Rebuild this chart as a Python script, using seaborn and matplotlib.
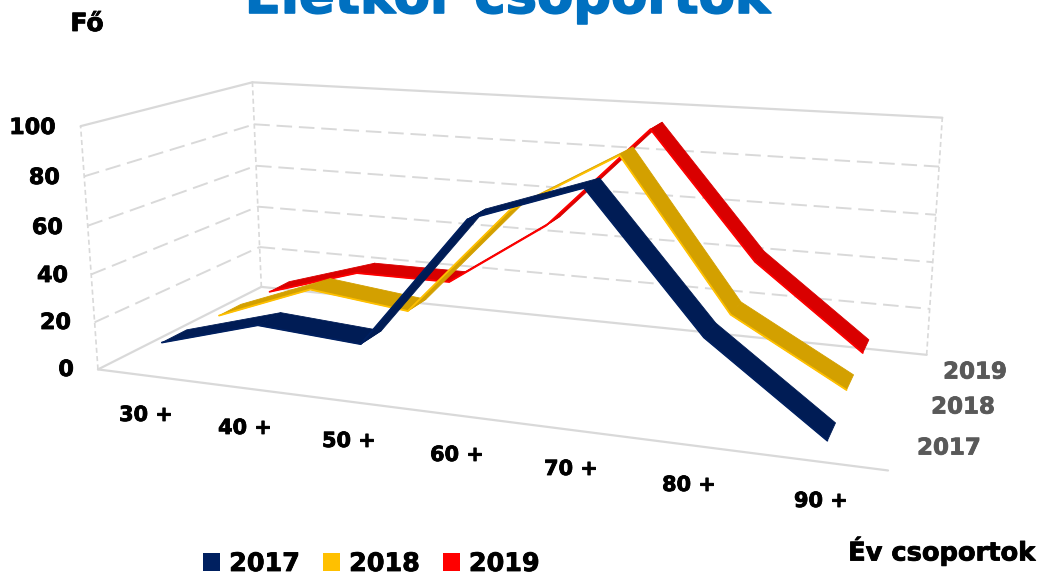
import numpy as np
import matplotlib
matplotlib.use("Agg")
import matplotlib.pyplot as plt
import matplotlib.patheffects as pe
from matplotlib.patches import Patch
from mpl_toolkits.mplot3d.art3d import Poly3DCollection
import seaborn as sns

# Values
age_groups = ["30 +", "40 +", "50 +", "60 +", "70 +", "80 +", "90 +"]
years = ["2017", "2018", "2019"]
values_2017 = [10, 22, 19, 72, 87, 36, 3]
values_2018 = [9, 25, 20, 66, 91, 32, 7]
values_2019 = [8, 21, 21, 50, 94, 42, 8]
y_ticks = [0, 20, 40, 60, 80, 100]

sns.set_theme(style="white")
plt.rcParams['font.family'] = ['DejaVu Sans']

legend_colors = sns.color_palette(["#002060", "#FFC000", "#FF0000"])
face_colors = ["#001C55", "#D3A000", "#D90000"]
edge_colors = ["#002060", "#FFC000", "#FF0000"]
grid_color = "#D9D9D9"

W, H = 1041, 573
fig = plt.figure(figsize=(W / 100, H / 100), dpi=100)
ax = fig.add_axes([0, 0, 1, 1], projection="3d", computed_zorder=False)

# Camera fitted to the corners of the box in the picture
scale, off_x, off_y = 4624.1, 517.68, 244.29
x0, x1 = ax.viewLim.intervalx
y0, y1 = ax.viewLim.intervaly
side = scale * (x1 - x0)
left = off_x + scale * x0
top = off_y - scale * y1
ax.set_position([left / W, 1 - (top + side) / H, side / W, side / H])

ax.set_proj_type("persp", focal_length=0.3281)
ax.view_init(elev=13.867, azim=-69.902, roll=0.094)
ax.set_box_aspect((1, 0.4244, 0.3176))
ax.set_xlim(0, 7, view_margin=0)
ax.set_ylim(0, 3, view_margin=0)
ax.set_zlim(0, 100, view_margin=0)
ax.set_axis_off()
ax.patch.set_alpha(0)

# Box outline and dashed grid
solid = dict(color=grid_color, lw=1.6, zorder=1, clip_on=False)
dashed = dict(color=grid_color, lw=1.4, ls=(0, (8, 3.5)), zorder=1, clip_on=False)
dashed_thin = dict(color=grid_color, lw=1.2, ls=(0, (3, 2)), zorder=1, clip_on=False)
ax.plot([0, 7], [0, 0], [0, 0], **solid)
ax.plot([0, 0], [0, 3], [0, 0], **solid)
ax.plot([0, 7], [3, 3], [0, 0], **solid)
ax.plot([0, 0], [0, 3], [100, 100], **solid)
ax.plot([0, 7], [3, 3], [100, 100], **solid)
for tick in y_ticks[1:-1]:
    ax.plot([0, 0], [0, 3], [tick, tick], **dashed)
    ax.plot([0, 7], [3, 3], [tick, tick], **dashed)
ax.plot([0, 0], [0, 0], [0, 100], **dashed_thin)
ax.plot([0, 0], [3, 3], [0, 100], **dashed_thin)
ax.plot([7, 7], [3, 3], [0, 100], **dashed_thin)

# The 3D line chart: flat ribbons, back series first
half_width = 0.21
xs = np.arange(len(age_groups)) + 0.5
series = [values_2017, values_2018, values_2019]
for i in [2, 1, 0]:
    vals = series[i]
    depth = i + 0.5
    quads = []
    for j in range(len(xs) - 1):
        quads.append([
            (xs[j], depth - half_width, vals[j]),
            (xs[j + 1], depth - half_width, vals[j + 1]),
            (xs[j + 1], depth + half_width, vals[j + 1]),
            (xs[j], depth + half_width, vals[j]),
        ])
    z = 10 - i * 2
    ribbon = Poly3DCollection(quads, facecolor=face_colors[i], edgecolor=face_colors[i],
                              linewidth=0.6, zorder=z)
    ax.add_collection3d(ribbon)
    ax.plot(xs, np.full(len(xs), depth - half_width), vals, color=edge_colors[i],
            lw=1.3, zorder=z + 1, solid_capstyle="round")

heavy = [pe.withStroke(linewidth=0.6, foreground="black")]
heavy_grey = [pe.withStroke(linewidth=0.6, foreground="#595959")]


def label(px, py, text, **kw):
    kw.setdefault("fontweight", "bold")
    kw.setdefault("ha", "center")
    kw.setdefault("va", "center")
    kw.setdefault("color", "black")
    kw.setdefault("path_effects", heavy)
    fig.text(px / W, 1 - py / H, text, **kw)


# Value axis labels
tick_x = [74, 71, 68, 63, 60, 56]
tick_y = [370, 323, 276, 228, 178, 128]
for t, px, py in zip(y_ticks, tick_x, tick_y):
    label(px, py, str(t), fontsize=16, ha="right")

# Age group labels
cat_x = [146, 245, 349, 457, 571, 689, 821]
cat_y = [415, 428, 441, 455, 469, 485, 501]
for name, px, py in zip(age_groups, cat_x, cat_y):
    label(px, py, name, fontsize=15)

# Depth axis labels
for name, px, py in zip(years, [949, 963, 975], [448, 407, 372]):
    label(px, py, name, fontsize=16.5, color="#595959", path_effects=heavy_grey)

label(87, 24, "Fő", fontsize=18)
label(942, 551, "Év csoportok", fontsize=18.5)
label(507, 13, "Életkor csoportok", fontsize=38, color="#0070C0", va="baseline",
      path_effects=[pe.withStroke(linewidth=1.2, foreground="#0070C0")])

handles = [Patch(facecolor=c, edgecolor="none") for c in legend_colors]
leg = fig.legend(handles, years, loc="lower left", bbox_to_anchor=(203 / W, -3 / H), ncol=3,
                 frameon=False, handlelength=0.68, handleheight=0.68, handletextpad=0.35,
                 columnspacing=0.9, borderaxespad=0, borderpad=0, labelcolor="black",
                 prop={"size": 18.3, "weight": "bold"})
for t in leg.get_texts():
    t.set_path_effects(heavy)

fig.savefig("out.png", dpi=100)
